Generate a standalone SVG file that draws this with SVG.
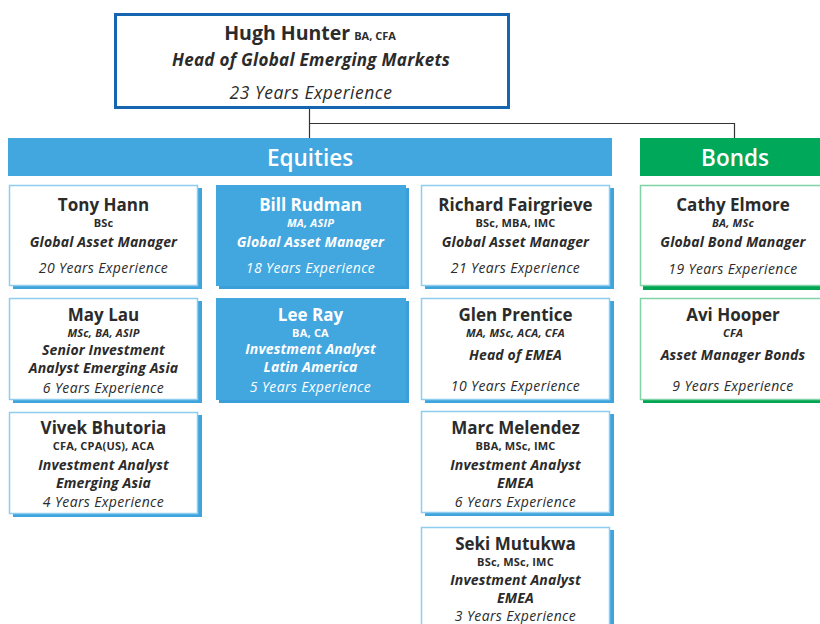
<svg xmlns="http://www.w3.org/2000/svg" width="820" height="624" viewBox="0 0 820 624">
<style>
text{font-family:"Open Sans","Noto Sans",sans-serif;fill:#2b2b2b;text-anchor:middle}
.nm{font-size:17px;font-weight:700}
.cr{font-size:11px;font-weight:700;letter-spacing:0.2px}
.cri{font-size:11px;font-weight:700;font-style:italic;letter-spacing:0.2px}
.tt{font-size:14px;font-weight:700;font-style:italic;letter-spacing:0.15px}
.ex{font-size:14px;font-style:italic;letter-spacing:0.35px}
.w text{fill:#ffffff}
.shb{fill:#3fa3dc}
.cardb{fill:#ffffff;stroke:#8fcdee;stroke-width:1.5}
.fillb{fill:#42a6df}
.shg{fill:#00a651}
.cardg{fill:#ffffff;stroke:#80d3a6;stroke-width:1.5}
.conn{fill:none;stroke:#333333;stroke-width:1.2}
.hdr{font-size:22.5px;font-weight:600;fill:#ffffff}
</style>
<rect width="820" height="624" fill="#ffffff"/>
<g id="connectors">
<path class="conn" d="M309.5 108 V138 M309.5 123.5 H734.5 V138"/>
</g>
<g id="hugh-hunter">
<rect x="115.5" y="14.5" width="393" height="93" fill="#ffffff" stroke="#1565b0" stroke-width="3"/>
<text x="310" y="40"><tspan style="font-size:19.5px;font-weight:700">Hugh Hunter</tspan><tspan style="font-size:11px;font-weight:700" dx="4">BA, CFA</tspan></text>
<text x="311" y="66" style="font-size:17px;font-weight:700;font-style:italic;letter-spacing:0.3px">Head of Global Emerging Markets</text>
<text x="311" y="99" style="font-size:17.5px;font-style:italic;letter-spacing:0.5px">23 Years Experience</text>
</g>
<g id="equities">
<rect x="8" y="138" width="604" height="38" fill="#42a6df"/>
<text class="hdr" x="310" y="166">Equities</text>
</g>
<g id="bonds">
<rect x="640" y="138" width="180" height="38" fill="#00a859"/>
<text class="hdr" x="735" y="166">Bonds</text>
</g>
<g id="tony-hann">
<rect class="shb" x="13" y="188" width="189" height="101"/>
<rect class="cardb" x="9.5" y="185.5" width="188" height="100"/>
<text class="nm" x="103.5" y="211">Tony Hann</text>
<text class="cr" x="103.5" y="227">BSc</text>
<text class="tt" x="103.5" y="247">Global Asset Manager</text>
<text class="ex" x="103.5" y="273">20 Years Experience</text>
</g>
<g id="bill-rudman" class="w">
<rect fill="#3a9ed8" x="219" y="188" width="190" height="101"/>
<rect class="fillb" x="216" y="185" width="190" height="101"/>
<text class="nm" x="310.5" y="211">Bill Rudman</text>
<text class="cri" x="310.5" y="227">MA, ASIP</text>
<text class="tt" x="310.5" y="247">Global Asset Manager</text>
<text class="ex" x="310.5" y="273">18 Years Experience</text>
</g>
<g id="richard-fairgrieve">
<rect class="shb" x="425" y="188" width="189" height="101"/>
<rect class="cardb" x="421.5" y="185.5" width="188" height="100"/>
<text class="nm" x="515.5" y="211">Richard Fairgrieve</text>
<text class="cr" x="515.5" y="227">BSc, MBA, IMC</text>
<text class="tt" x="515.5" y="247">Global Asset Manager</text>
<text class="ex" x="515.5" y="273">21 Years Experience</text>
</g>
<g id="cathy-elmore">
<rect class="shg" x="643" y="189" width="185" height="101"/>
<rect class="cardg" x="640.5" y="185.5" width="190" height="100"/>
<text class="nm" x="733" y="211">Cathy Elmore</text>
<text class="cri" x="733" y="227">BA, MSc</text>
<text class="tt" x="733" y="247">Global Bond Manager</text>
<text class="ex" x="733" y="274">19 Years Experience</text>
</g>
<g id="may-lau">
<rect class="shb" x="13" y="301" width="189" height="102"/>
<rect class="cardb" x="9.5" y="298.5" width="188" height="101"/>
<text class="nm" x="103.5" y="321">May Lau</text>
<text class="cri" x="103.5" y="337">MSc, BA, ASIP</text>
<text class="tt" x="103.5" y="355">Senior Investment</text>
<text class="tt" x="103.5" y="373">Analyst Emerging Asia</text>
<text class="ex" x="103.5" y="393">6 Years Experience</text>
</g>
<g id="lee-ray" class="w">
<rect fill="#3a9ed8" x="219" y="301" width="190" height="102"/>
<rect class="fillb" x="216" y="298" width="190" height="102"/>
<text class="nm" x="310.5" y="321">Lee Ray</text>
<text class="cr" x="310.5" y="337">BA, CA</text>
<text class="tt" x="310.5" y="354">Investment Analyst</text>
<text class="tt" x="310.5" y="372">Latin America</text>
<text class="ex" x="310.5" y="392">5 Years Experience</text>
</g>
<g id="glen-prentice">
<rect class="shb" x="425" y="301" width="189" height="102"/>
<rect class="cardb" x="421.5" y="298.5" width="188" height="101"/>
<text class="nm" x="515.5" y="321">Glen Prentice</text>
<text class="cri" x="515.5" y="337">MA, MSc, ACA, CFA</text>
<text class="tt" x="515.5" y="360">Head of EMEA</text>
<text class="ex" x="515.5" y="391">10 Years Experience</text>
</g>
<g id="avi-hooper">
<rect class="shg" x="643" y="302" width="185" height="101"/>
<rect class="cardg" x="640.5" y="298.5" width="190" height="101"/>
<text class="nm" x="733" y="321">Avi Hooper</text>
<text class="cri" x="733" y="337">CFA</text>
<text class="tt" x="733" y="360">Asset Manager Bonds</text>
<text class="ex" x="733" y="391">9 Years Experience</text>
</g>
<g id="vivek-bhutoria">
<rect class="shb" x="13" y="415" width="189" height="102"/>
<rect class="cardb" x="9.5" y="412.5" width="188" height="101"/>
<text class="nm" x="103.5" y="434">Vivek Bhutoria</text>
<text class="cr" x="103.5" y="450">CFA, CPA(US), ACA</text>
<text class="tt" x="103.5" y="470">Investment Analyst</text>
<text class="tt" x="103.5" y="488">Emerging Asia</text>
<text class="ex" x="103.5" y="507">4 Years Experience</text>
</g>
<g id="marc-melendez">
<rect class="shb" x="425" y="414" width="189" height="102"/>
<rect class="cardb" x="421.5" y="411.5" width="188" height="101"/>
<text class="nm" x="515.5" y="434">Marc Melendez</text>
<text class="cr" x="515.5" y="450">BBA, MSc, IMC</text>
<text class="tt" x="515.5" y="470">Investment Analyst</text>
<text class="tt" x="515.5" y="488">EMEA</text>
<text class="ex" x="515.5" y="507">6 Years Experience</text>
</g>
<g id="seki-mutukwa">
<rect class="shb" x="425" y="530" width="189" height="102"/>
<rect class="cardb" x="421.5" y="527.5" width="188" height="101"/>
<text class="nm" x="515.5" y="550">Seki Mutukwa</text>
<text class="cr" x="515.5" y="566">BSc, MSc, IMC</text>
<text class="tt" x="515.5" y="585">Investment Analyst</text>
<text class="tt" x="515.5" y="603">EMEA</text>
<text class="ex" x="515.5" y="621">3 Years Experience</text>
</g>
</svg>
